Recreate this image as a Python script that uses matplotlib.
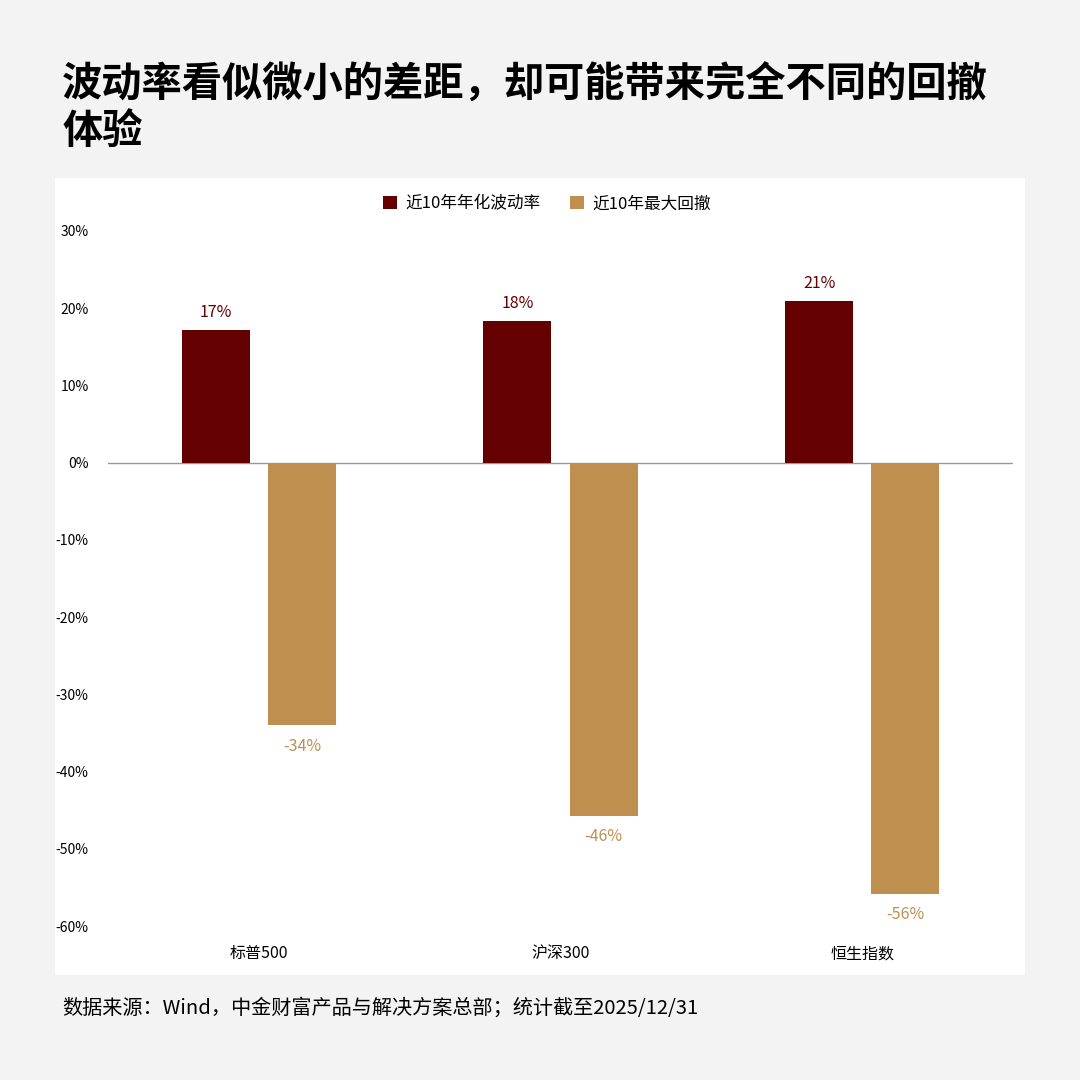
import matplotlib
matplotlib.use("Agg")
import matplotlib.pyplot as plt
import numpy as np

plt.rcParams['font.family'] = ['Noto Sans CJK SC', 'DejaVu Sans']

categories = ["标普500", "沪深300", "恒生指数"]
volatility = [17.2, 18.3, 20.9]
drawdown = [-34.0, -45.7, -55.8]
vol_labels = ["17%", "18%", "21%"]
dd_labels = ["-34%", "-46%", "-56%"]
yticks = [30, 20, 10, 0, -10, -20, -30, -40, -50, -60]

c_vol = "#650000"
c_dd = "#BF8F4F"

fig = plt.figure(figsize=(10.8, 10.8), dpi=100)
fig.patch.set_facecolor("#f3f3f3")

# white panel behind the chart
bg = fig.add_axes([55 / 1080, 1 - 975 / 1080, 970 / 1080, 797 / 1080], zorder=-1)
bg.set_facecolor("white")
bg.set_xticks([])
bg.set_yticks([])
for s in bg.spines.values():
    s.set_visible(False)

fig.text(62 / 1080, 1 - 85 / 1080, "波动率看似微小的差距，却可能带来完全不同的回撤",
         fontsize=29, fontweight="bold", va="center", ha="left")
fig.text(62 / 1080, 1 - 131 / 1080, "体验", fontsize=29, fontweight="bold", va="center", ha="left")
fig.text(62 / 1080, 1 - 1008 / 1080, "数据来源：Wind，中金财富产品与解决方案总部；统计截至2025/12/31",
         fontsize=14.5, va="center", ha="left")

ax = fig.add_axes([108 / 1080, 1 - 926 / 1080, 905 / 1080, 695 / 1080])
ax.set_facecolor("none")
x = np.arange(len(categories))
w = 0.225
off = 0.143
ax.bar(x - off, volatility, w, color=c_vol, label="近10年年化波动率", zorder=2)
ax.bar(x + off, drawdown, w, color=c_dd, label="近10年最大回撤", zorder=2)
for i in range(len(categories)):
    ax.text(x[i] - off, volatility[i] + 1.2, vol_labels[i], ha="center", va="bottom",
            color=c_vol, fontsize=11.5)
    ax.text(x[i] + off, drawdown[i] - 1.6, dd_labels[i], ha="center", va="top",
            color=c_dd, fontsize=11.5)
ax.axhline(0, color="#999999", lw=1, zorder=1)
ax.set_xlim(-0.5, 2.5)
ax.set_ylim(-60, 30)
ax.set_yticks(yticks)
ax.set_yticklabels([f"{t}%" for t in yticks], fontsize=10)
ax.set_xticks(x)
ax.set_xticklabels(categories, fontsize=11.5)
ax.tick_params(length=0, pad=14)
ax.tick_params(axis="x", pad=14)
for s in ax.spines.values():
    s.set_visible(False)
ax.legend(loc="lower center", bbox_to_anchor=(0.485, 1.005), ncol=2, frameon=False,
          fontsize=12, handlelength=0.8, handleheight=0.8, columnspacing=1.8, handletextpad=0.5)

fig.savefig("out.png", dpi=100, facecolor=fig.get_facecolor())
